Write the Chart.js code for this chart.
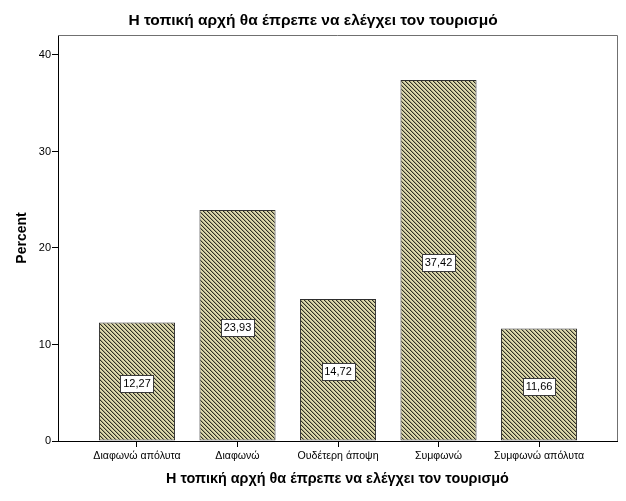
<!DOCTYPE html>
<html><head><meta charset="utf-8">
<script src="https://cdn.jsdelivr.net/npm/chart.js@4.4.1/dist/chart.umd.min.js"></script>
<style>html,body{margin:0;padding:0;background:#fff}#wrap{width:626px;height:501px;position:relative}</style>
</head><body><div id="wrap"><canvas id="c" width="626" height="501"></canvas></div>
<script>
const chartTitle = 'Η τοπική αρχή θα έπρεπε να ελέγχει τον τουρισμό';
const categories = ['Διαφωνώ απόλυτα', 'Διαφωνώ', 'Ουδέτερη άποψη', 'Συμφωνώ', 'Συμφωνώ απόλυτα'];
const percents = [12.27, 23.93, 14.72, 37.42, 11.66];
const yTicks = [0, 10, 20, 30, 40];
const yAxisTitle = 'Percent';
const xAxisTitle = 'Η τοπική αρχή θα έπρεπε να ελέγχει τον τουρισμό';

const FONT = '"Liberation Sans", Arial, sans-serif';
const canvas = document.getElementById('c');
const ctx0 = canvas.getContext('2d');

function makePattern() {
  const s = 4;
  const c = document.createElement('canvas');
  c.width = s; c.height = s;
  const g = c.getContext('2d');
  g.fillStyle = '#dcd8ac';
  g.fillRect(0, 0, s, s);
  for (let y = 0; y < s; y++) {
    for (let x = 0; x < s; x++) {
      const d = ((x - y) % s + s) % s;
      if (d === 0) { g.fillStyle = '#2f2f24'; g.fillRect(x, y, 1, 1); }
      else if (d === 1) { g.fillStyle = '#a9a681'; g.fillRect(x, y, 1, 1); }
    }
  }
  return ctx0.createPattern(c, 'repeat');
}

const framePlugin = {
  id: 'frame',
  beforeDatasetsDraw(chart) {
    const { ctx, chartArea: a } = chart;
    ctx.save();
    ctx.strokeStyle = '#707070';
    ctx.lineWidth = 1;
    ctx.beginPath();
    ctx.moveTo(a.left, a.top + 0.5);
    ctx.lineTo(a.right + 0.5, a.top + 0.5);
    ctx.lineTo(a.right + 0.5, a.bottom);
    ctx.stroke();
    ctx.restore();
  }
};

const textPlugin = {
  id: 'texts',
  afterDraw(chart) {
    const ctx = chart.ctx;
    const a = chart.chartArea;
    ctx.save();
    ctx.fillStyle = '#000';
    ctx.textAlign = 'center';
    ctx.textBaseline = 'middle';
    ctx.font = 'bold 15.5px ' + FONT;
    ctx.fillText(chartTitle, 313, 21);
    ctx.font = 'bold 14.4px ' + FONT;
    ctx.fillText(xAxisTitle, (a.left + a.right) / 2, 479);
    ctx.restore();
  }
};

const valuePlugin = {
  id: 'values',
  afterDatasetsDraw(chart) {
    const ctx = chart.ctx;
    const meta = chart.getDatasetMeta(0);
    ctx.save();
    ctx.font = '11px ' + FONT;
    meta.data.forEach((bar, i) => {
      const txt = percents[i].toFixed(2).replace('.', ',');
      const cy = (bar.y + bar.base) / 2 + 2;
      const w = Math.round(ctx.measureText(txt).width + 5);
      const h = 17;
      const x = Math.round(bar.x - w / 2) + 0.5;
      const y = Math.round(cy - h / 2) + 0.5;
      ctx.fillStyle = '#fff';
      ctx.fillRect(x, y, w, h);
      ctx.strokeStyle = '#3a3a3a';
      ctx.lineWidth = 1;
      ctx.strokeRect(x, y, w, h);
      ctx.fillStyle = '#000';
      ctx.textAlign = 'center';
      ctx.textBaseline = 'middle';
      ctx.fillText(txt, bar.x, y + h / 2);
    });
    ctx.restore();
  }
};

new Chart(canvas, {
  type: 'bar',
  data: {
    datasets: [{
      data: percents.map((v, i) => ({ x: i, y: v })),
      backgroundColor: makePattern(),
      borderColor: '#2e2e2e',
      borderWidth: 1,
      borderSkipped: false,
      categoryPercentage: 1,
      barPercentage: 0.757
    }]
  },
  options: {
    responsive: false,
    animation: false,
    layout: { padding: { left: 0, right: 9, top: 35, bottom: 0 } },
    plugins: { legend: { display: false }, tooltip: { enabled: false }, title: { display: false } },
    scales: {
      x: {
        type: 'linear',
        offset: false,
        bounds: 'data',
        grace: 0,
        min: -0.786,
        max: 4.776,
        afterDataLimits(scale) { scale.min = -0.786; scale.max = 4.776; },
        afterBuildTicks(scale) { scale.ticks = categories.map((_, i) => ({ value: i })); },
        afterFit(scale) { scale.height = 60; },
        ticks: {
          autoSkip: false, maxRotation: 0, minRotation: 0,
          callback: (v) => categories[v] !== undefined ? categories[v] : '',
          color: '#000', font: { family: FONT, size: 10.6 }, padding: 3
        },
        grid: { offset: false, drawOnChartArea: false, drawTicks: true, tickLength: 6, color: '#000' },
        border: { display: true, color: '#000', width: 1 }
      },
      y: {
        min: 0,
        max: 42.07,
        afterBuildTicks(scale) { scale.ticks = yTicks.map(v => ({ value: v })); },
        afterFit(scale) { scale.width = 58; },
        ticks: { color: '#000', font: { family: FONT, size: 11 }, padding: 1 },
        grid: { offset: false, drawOnChartArea: false, drawTicks: true, tickLength: 6, color: '#000' },
        border: { display: true, color: '#000', width: 1 },
        title: { display: true, text: yAxisTitle, color: '#000', font: { family: FONT, size: 14, weight: 'bold' }, padding: { top: 14, bottom: 0 } }
      }
    }
  },
  plugins: [framePlugin, valuePlugin, textPlugin]
});
</script>
</body></html>
